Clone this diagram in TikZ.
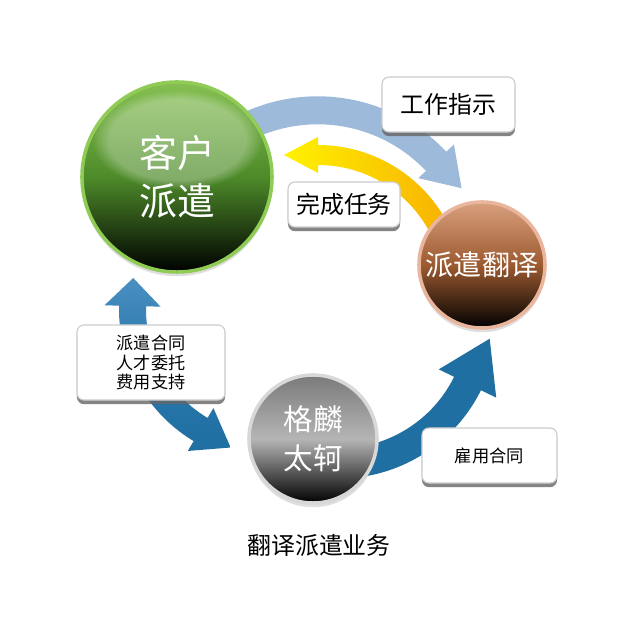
\documentclass[tikz,border=0pt]{standalone}
\usepackage{fontspec}
\setmainfont{Noto Sans CJK SC}
\usetikzlibrary{calc,shadows,fadings}

\definecolor{tipblue}{HTML}{9DBADB}
\definecolor{deepblue}{HTML}{1F6FA2}
\definecolor{deepbluetop}{HTML}{4A8FC2}
\definecolor{sunyellow}{HTML}{FFF200}
\definecolor{sunorange}{HTML}{F7AE00}
\definecolor{leafring}{HTML}{8FCB55}
\definecolor{leaftop}{HTML}{86C052}
\definecolor{leafmid}{HTML}{4D8B29}
\definecolor{copperring}{HTML}{E9B59C}
\definecolor{coppertop}{HTML}{D9A07E}
\definecolor{coppermid}{HTML}{9C5A30}
\definecolor{silverring}{HTML}{D8D8D8}
\definecolor{silvertop}{HTML}{7A7A7A}
\definecolor{silvermid}{HTML}{B5B5B5}

% band arrow: style, centre, radius, from, to, half width, head half width, head length
\newcommand{\bandarrow}[8]{%
  \pgfmathsetmacro\bandout{#3+#6}%
  \pgfmathsetmacro\bandin{#3-#6}%
  \pgfmathsetmacro\headout{#3+#7}%
  \pgfmathsetmacro\headin{#3-#7}%
  \pgfmathsetmacro\headdir{#5+90*sign(#5-#4)}%
  \path[#1] ($(#2)+(#4:\bandout)$) arc[start angle=#4, end angle=#5, radius=\bandout]
    -- ($(#2)+(#5:\headout)$) -- ($(#2)+(#5:#3)+(\headdir:#8)$)
    -- ($(#2)+(#5:\headin)$) -- ($(#2)+(#5:\bandin)$)
    arc[start angle=#5, end angle=#4, radius=\bandin] -- cycle;}

\begin{document}
\begin{tikzpicture}[x=0.025cm,y=0.025cm]
  \tikzset{
    ball/.style={circle, line width=2.5pt, text=white, align=center, inner sep=0pt,
      drop shadow={shadow xshift=0pt, shadow yshift=-3pt, opacity=0.25}},
    tag/.style={draw=black!20, line width=0.8pt, fill=white, rounded corners=5pt,
      align=center, inner sep=0pt,
      drop shadow={shadow xshift=0pt, shadow yshift=-3pt, fill=black!60, opacity=0.8}}
  }
  \fill[white] (0,0) rectangle (640,640);
  \useasboundingbox (0,0) rectangle (640,640);

  % arrows behind everything
  \coordinate (orderc) at (317.7,366.7);
  \coordinate (donec) at (318,348.5);
  \coordinate (contractc) at (272.5,330.6);
  \coordinate (hirec) at (338.8,320.1);
  \bandarrow{fill=tipblue}{orderc}{163}{125}{43.4}{14}{24.5}{37}
  \bandarrow{left color=sunyellow, right color=sunorange}{donec}{136.5}{18}{90}{10}{18}{34}
  \bandarrow{top color=deepbluetop, bottom color=deepblue!90!deepbluetop}{contractc}{140}{205}{178.6}{13.5}{28}{28}
  \bandarrow{top color=deepblue!70!deepbluetop, bottom color=deepblue}{contractc}{140}{205}{239.1}{13.5}{25}{35}
  \bandarrow{fill=deepblue}{hirec}{143.6}{-90}{-26.3}{15}{32}{50}

  % the three balls
  \node[ball, minimum size=4.75cm, draw=leafring, top color=leaftop, bottom color=black,
    middle color=leafmid, font=\fontsize{27}{34}\selectfont] (client) at (177,463) {客户\\派遣};
  \fill[white, opacity=0.3, path fading=circle with fuzzy edge 20 percent] (177,500) ellipse [x radius=85, y radius=50];
  \node[ball, minimum size=3.15cm, draw=copperring, top color=coppertop, bottom color=black,
    middle color=coppermid, font=\fontsize{20}{24}\selectfont] (translator) at (482,375) {派遣翻译};
  \node[ball, minimum size=3.2cm, draw=silverring, top color=silvertop, bottom color=black,
    middle color=silvermid, font=\fontsize{21}{27.6}\selectfont] (gelin) at (313,201) {格麟\\太轲};

  % labels
  \node[tag, minimum width=3.325cm, minimum height=1.375cm, font=\fontsize{17}{20}\selectfont] (order) at (448.5,535.5) {工作指示};
  \node[tag, minimum width=2.8cm, minimum height=1.125cm, font=\fontsize{17}{20}\selectfont] (done) at (344,435.5) {完成任务};
  \node[tag, minimum width=3.7cm, minimum height=1.875cm, font=\fontsize{12.2}{14}\selectfont] (contract) at (151,277.5) {派遣合同\\人才委托\\费用支持};
  \node[tag, minimum width=3.375cm, minimum height=1.375cm, font=\fontsize{12.3}{14}\selectfont] (hire) at (489.5,184.5) {雇用合同};
  \node[font=\fontsize{17}{20}\selectfont] (caption) at (319,95) {翻译派遣业务};
\end{tikzpicture}
\end{document}
